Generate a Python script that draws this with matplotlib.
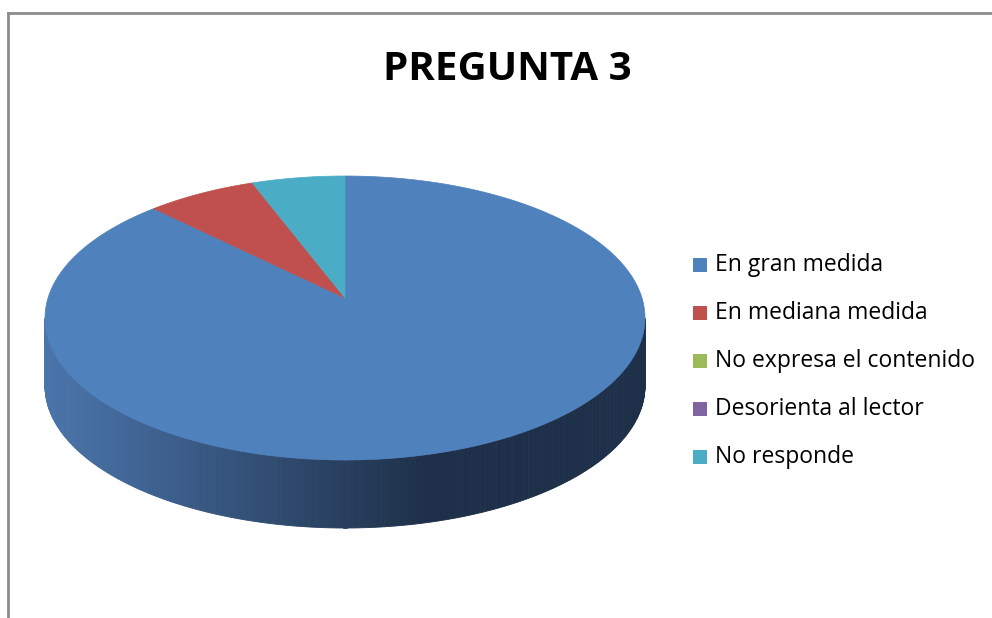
import numpy as np
import matplotlib.pyplot as plt
from matplotlib.patches import Polygon, Rectangle
from matplotlib.lines import Line2D
from matplotlib.colors import to_rgb

# Datos
categorias = ["En gran medida", "En mediana medida", "No expresa el contenido",
              "Desorienta al lector", "No responde"]
valores = [89, 6, 0, 0, 5]
colores = ["#4F81BD", "#C0504D", "#9BBB59", "#8064A2", "#4BACC6"]
titulo = "PREGUNTA 3"

W, H = 992, 618
fig = plt.figure(figsize=(W / 100, H / 100), dpi=100)
ax = fig.add_axes([0, 0, 1, 1])
ax.set_xlim(0, W)
ax.set_ylim(H, 0)
ax.axis("off")

# marco del grafico
ax.add_line(Line2D([8, W], [13, 13], color="#8c8c8c", lw=2))
ax.add_line(Line2D([8, 8], [13, H], color="#8c8c8c", lw=2))

# geometria del pastel 3D (elipse + vertice algo desplazado por perspectiva)
cx, cy, rx, ry, prof = 345, 318, 300, 142, 68
vx, vy = 345, 298


def punto(t):
    return cx + rx * np.cos(t), cy - ry * np.sin(t)


# lado (solo la parte frontal, 180..360 grados) con degradado
lado_claro = np.array(to_rgb("#4a74aa"))
lado_oscuro = np.array(to_rgb("#1e3049"))
ts = np.linspace(np.pi, 2 * np.pi, 300)
for a, b in zip(ts[:-1], ts[1:]):
    x0, y0 = punto(a)
    x1, y1 = punto(b)
    f = ((x0 + x1) / 2 - (cx - rx) - 5) / 375
    f = min(1, max(0, f))
    c = lado_claro * (1 - f) + lado_oscuro * f
    ax.add_patch(Polygon([(x0, y0), (x1, y1), (x1, y1 + prof), (x0, y0 + prof)],
                         closed=True, facecolor=c, edgecolor=c, lw=0.6))

# cara superior: sectores en sentido horario desde arriba
total = sum(valores)
inicio = np.pi / 2
for v, col in zip(valores, colores):
    if v == 0:
        continue
    ang = 2 * np.pi * v / total
    t = np.linspace(inicio, inicio - ang, 200)
    xs, ys = punto(t)
    pts = [(vx, vy)] + list(zip(xs, ys))
    ax.add_patch(Polygon(pts, closed=True, facecolor=col, edgecolor=col, lw=0.5))
    inicio -= ang

# titulo
ax.text(507, 69, titulo, ha="center", va="center", fontsize=29,
        fontweight="bold", family="Open Sans", color="black")

# leyenda
y0 = 265
for i, (cat, col) in enumerate(zip(categorias, colores)):
    y = y0 + i * 48
    ax.add_patch(Rectangle((693, y - 7), 14, 14, facecolor=col, edgecolor="none"))
    ax.text(715, y, cat, ha="left", va="center", fontsize=16.5,
            family="Open Sans", color="black")

fig.savefig("out.png", dpi=100)
